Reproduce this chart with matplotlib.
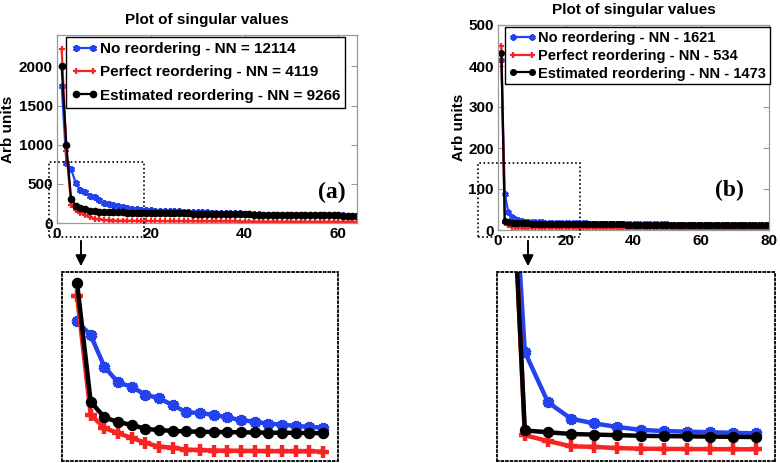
import numpy as np
import matplotlib
matplotlib.use('Agg')
import matplotlib.pyplot as plt
from matplotlib.patches import Rectangle, FancyArrowPatch

plt.rcParams['font.family'] = ['Liberation Sans', 'DejaVu Sans']
plt.rcParams['font.weight'] = 'bold'

# ---------------------------------------------------------------- #
# Data: singular values, panel (a) - 64 values
# ---------------------------------------------------------------- #
a_blue = [1750, 770, 690, 510, 420, 395, 350, 330, 290, 250,
          245, 235, 220, 205, 195, 185, 178, 172, 166, 162,
          158, 156, 154, 152, 150, 148, 146, 144, 142, 140,
          138, 136, 134, 132, 130, 128, 126, 124, 122, 120,
          112, 110, 109, 108, 107, 106, 105, 104, 103, 102,
          101, 100, 99, 99, 98, 98, 97, 97, 96, 96,
          96, 95, 95, 95]
a_red = [2220, 915, 235, 160, 130, 103, 75, 53, 47, 36,
         33, 31, 30, 29, 28, 27, 27, 26, 26, 25,
         25, 24, 24, 24, 23, 23, 23, 22, 22, 22,
         21, 21, 21, 21, 20, 20, 20, 20, 19, 19,
         19, 19, 18, 18, 18, 18, 18, 17, 17, 17,
         17, 17, 16, 16, 16, 16, 16, 16, 15, 15,
         15, 15, 15, 15]
a_black = [2000, 990, 310, 220, 194, 177, 155, 148, 143, 140,
           138, 137, 136, 135, 134, 133, 132, 132, 131, 130,
           129, 128, 127, 126, 125, 124, 123, 122, 121, 120,
           119, 118, 117, 116, 115, 114, 113, 112, 111, 110,
           109, 108, 107, 106, 105, 104, 103, 102, 101, 100,
           100, 99, 99, 98, 98, 97, 97, 96, 96, 96,
           95, 95, 95, 95]
a_labels = ['No reordering - NN = 12114',
            'Perfect reordering - NN = 4119',
            'Estimated reordering - NN = 9266']

# ---------------------------------------------------------------- #
# Data: singular values, panel (b) - 80 values
# ---------------------------------------------------------------- #
b_blue = [415, 88, 45, 31, 27, 24, 21.5, 20.5, 20, 19.5,
          19, 18.5, 18.3, 18.1, 17.9, 17.7, 17.5, 17.3, 17.1, 16.9,
          16.7, 16.5, 16.3, 16.1, 16, 15.9, 15.8, 15.7, 15.6, 15.5,
          15.4, 15.3, 15.2, 15.1, 15, 14.9, 14.8, 14.7, 14.6, 14.5,
          14.4, 14.3, 14.2, 14.1, 14, 13.9, 13.8, 13.7, 13.6, 13.5,
          13.4, 13.3, 13.2, 13.1, 13, 12.8, 12.6, 12.4, 12.2, 12,
          11.9, 11.8, 11.7, 11.6, 11.5, 11.4, 11.3, 11.2, 11.1, 11,
          11, 10.9, 10.9, 10.8, 10.8, 10.7, 10.7, 10.6, 10.6, 10.5]
b_red = [448, 17, 12, 7.5, 7, 6, 5.5, 5.3, 5.2, 5.1,
         5, 5, 4.9, 4.9, 4.8, 4.8, 4.7, 4.7, 4.6, 4.6,
         4.5, 4.5, 4.5, 4.4, 4.4, 4.4, 4.3, 4.3, 4.3, 4.2,
         4.2, 4.2, 4.1, 4.1, 4.1, 4, 4, 4, 4, 3.9,
         3.9, 3.9, 3.9, 3.8, 3.8, 3.8, 3.8, 3.7, 3.7, 3.7,
         3.7, 3.6, 3.6, 3.6, 3.6, 3.6, 3.5, 3.5, 3.5, 3.5,
         3.5, 3.4, 3.4, 3.4, 3.4, 3.4, 3.3, 3.3, 3.3, 3.3,
         3.3, 3.2, 3.2, 3.2, 3.2, 3.2, 3.1, 3.1, 3.1, 3.1]
b_black = [432, 21, 19.5, 18, 17.5, 17, 16.5, 16.2, 16, 15.8,
           15.6, 15.4, 15.3, 15.2, 15.1, 15, 14.9, 14.8, 14.7, 14.6,
           14.5, 14.4, 14.3, 14.2, 14.1, 14, 14, 13.9, 13.9, 13.8,
           13.8, 13.7, 13.7, 13.6, 13.6, 13.5, 13.5, 13.4, 13.4, 13.3,
           13.3, 13.2, 13.2, 13.1, 13.1, 13, 13, 13, 12.9, 12.9,
           12.9, 12.8, 12.8, 12.8, 12.7, 12.7, 12.7, 12.6, 12.6, 12.6,
           12.5, 12.5, 12.5, 12.4, 12.4, 12.4, 12.3, 12.3, 12.3, 12.2,
           12.2, 12.2, 12.1, 12.1, 12.1, 12, 12, 12, 12, 12]
b_labels = ['No reordering - NN - 1621',
            'Perfect reordering - NN - 534',
            'Estimated reordering - NN - 1473']

BLUE = '#2443ee'
RED = '#f82424'
ASTER = (6, 2, 0)

W, H = 780, 463


def fx(px):
    return px / W


def fy(py):
    return 1 - py / H


def box(x0, y0, x1, y1):
    return [fx(x0), fy(y1), (x1 - x0) / W, (y1 - y0) / H]


def draw_series(ax, blue, red, black, lw, ms, labels=None):
    xb = np.arange(1, len(blue) + 1)
    lab = labels if labels else [None] * 3
    ax.plot(xb, blue, color=BLUE, lw=lw, marker=ASTER, ms=ms, mew=lw, label=lab[0])
    ax.plot(xb, red, color=RED, lw=lw, marker='+', ms=ms, mew=lw, label=lab[1])
    ax.plot(xb, black, color='k', lw=lw, marker='o', ms=ms * 0.9, label=lab[2])


def style_main(ax):
    for s in ax.spines.values():
        s.set_color('#9a9a9a')
        s.set_linewidth(0.9)
    ax.tick_params(direction='in', length=4, color='#9a9a9a', labelsize=11,
                   top=True, right=True, pad=3)
    ax.set_ylabel('Arb units', fontsize=11, fontweight='bold')


def style_inset(ax):
    ax.set_xticks([])
    ax.set_yticks([])
    for s in ax.spines.values():
        s.set_linestyle((0, (1, 1.5)))
        s.set_linewidth(1.3)
        s.set_color('k')


fig = plt.figure(figsize=(7.8, 4.63), dpi=100)

# ---------------- panel (a) ----------------
ax1 = fig.add_axes(box(57, 35, 357, 223))
draw_series(ax1, a_blue, a_red, a_black, 1.6, 5, a_labels)
ax1.set_xlim(0, 64)
ax1.set_ylim(0, 2400)
ax1.set_xticks([0, 20, 40, 60])
ax1.set_yticks([0, 500, 1000, 1500, 2000])
style_main(ax1)
ax1.yaxis.set_label_coords(-0.14, 0.5)
ax1.set_title('Plot of singular values', fontsize=11, fontweight='bold', pad=8)
ax1.legend(loc='upper left', bbox_to_anchor=(0.03, 0.99), borderaxespad=0,
           fontsize=11, handlelength=1.7, handletextpad=0.15, labelspacing=0.6,
           borderpad=0.35, fancybox=False, edgecolor='k', framealpha=1, numpoints=2)
ax1.text(0.917, 0.165, '(a)', transform=ax1.transAxes, ha='center', va='center',
         fontsize=17, fontweight='bold', family=['Liberation Serif', 'DejaVu Serif'])

# ---------------- panel (b) ----------------
ax2 = fig.add_axes(box(498, 25, 769, 230))
draw_series(ax2, b_blue, b_red, b_black, 1.6, 4.5, b_labels)
ax2.set_xlim(0, 80)
ax2.set_ylim(0, 500)
ax2.set_xticks([0, 20, 40, 60, 80])
ax2.set_yticks([0, 100, 200, 300, 400, 500])
style_main(ax2)
ax2.yaxis.set_label_coords(-0.118, 0.5)
ax2.set_title('Plot of singular values', fontsize=11, fontweight='bold', pad=8)
ax2.legend(loc='upper left', bbox_to_anchor=(0.025, 0.99), borderaxespad=0,
           fontsize=10.5, handlelength=1.9, handletextpad=0.15, labelspacing=0.27,
           borderpad=0.25, fancybox=False, edgecolor='k', framealpha=1, numpoints=2)
ax2.text(0.855, 0.195, '(b)', transform=ax2.transAxes, ha='center', va='center',
         fontsize=17, fontweight='bold', family=['Liberation Serif', 'DejaVu Serif'])

# ---------------- zoom boxes and arrows ----------------
for (x0, y0, x1, y1) in [(49, 162, 144, 237), (478, 163, 580, 237)]:
    fig.add_artist(Rectangle((fx(x0), fy(y1)), (x1 - x0) / W, (y1 - y0) / H,
                             transform=fig.transFigure, fill=False, ec='k',
                             lw=1.2, ls=(0, (1, 1.5)), zorder=10))
for xa in [81, 528]:
    fig.add_artist(FancyArrowPatch((fx(xa), fy(238)), (fx(xa), fy(269)),
                                   transform=fig.transFigure, arrowstyle='-|>',
                                   mutation_scale=16, color='k', lw=1.4, zorder=10))

# ---------------- insets ----------------
ins1 = fig.add_axes(box(62, 272, 338, 461))
draw_series(ins1, a_blue[1:20], a_red[1:20], a_black[1:20], 3.2, 8)
for ln in ins1.get_lines():
    ln.set_xdata(np.arange(2, 21))
ins1.set_xlim(0.9, 21.1)
ins1.set_ylim(-29, 1051)
style_inset(ins1)

ins2 = fig.add_axes(box(497, 272, 775, 461))
draw_series(ins2, b_blue[:12], b_red[:12], b_black[:12], 3.2, 8)
ins2.set_xlim(0.8, 12.8)
ins2.set_ylim(-5, 156)
style_inset(ins2)

plt.savefig('out.png', dpi=100)
plt.close()
